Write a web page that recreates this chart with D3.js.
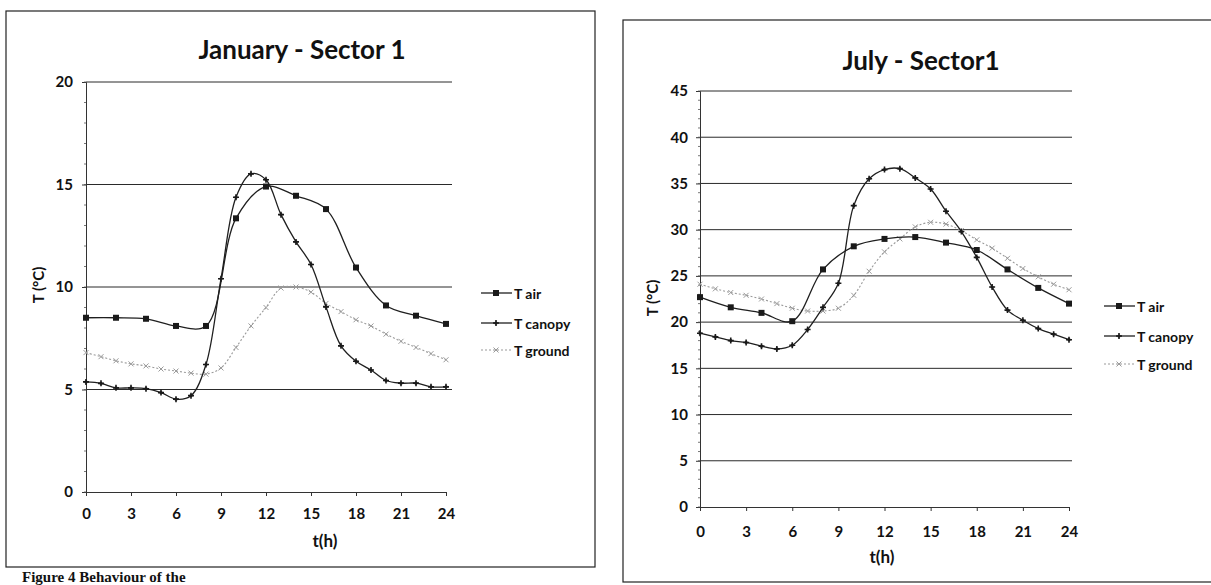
<!DOCTYPE html>
<html>
<head>
<meta charset="utf-8">
<script src="https://cdn.jsdelivr.net/npm/d3@7"></script>
<style>
  html, body { margin: 0; padding: 0; background: #fff; }
  svg { display: block; }
  text { font-family: Lato, "Open Sans", sans-serif; fill: #111; }
</style>
</head>
<body>
<svg id="chart" width="1211" height="585"></svg>
<script>
// ---------- DATA ----------
const seriesNames = ["T air", "T canopy", "T ground"];
const xTicks = [0, 3, 6, 9, 12, 15, 18, 21, 24];

// January - Sector 1
const janTitle = "January - Sector 1";
const janYTicks = [0, 5, 10, 15, 20];
const janAirHours = [0, 2, 4, 6, 8, 10, 12, 14, 16, 18, 20, 22, 24];
const janAir = [8.5, 8.5, 8.45, 8.1, 8.1, 13.35, 14.9, 14.45, 13.8, 10.95, 9.1, 8.6, 8.2];
const janCanopyHours = [0,1,2,3,4,5,6,7,8,9,10,11,12,13,14,15,16,17,18,19,20,21,22,23,24];
const janCanopy = [5.37, 5.3, 5.08, 5.08, 5.04, 4.85, 4.53, 4.7, 6.22, 10.4, 14.38, 15.52, 15.23, 13.53, 12.2, 11.1, 9.03, 7.13, 6.38, 5.95, 5.44, 5.31, 5.31, 5.13, 5.13];
const janGroundHours = [0,1,2,3,4,5,6,7,8,9,10,11,12,13,14,15,16,17,18,19,20,21,22,23,24];
const janGround = [6.8, 6.6, 6.4, 6.25, 6.15, 6.0, 5.9, 5.8, 5.75, 6.05, 7.05, 8.1, 9.0, 9.95, 10.0, 9.75, 9.2, 8.8, 8.4, 8.1, 7.7, 7.35, 7.05, 6.75, 6.45];

// July - Sector1
const julTitle = "July - Sector1";
const julYTicks = [0, 5, 10, 15, 20, 25, 30, 35, 40, 45];
const julAirHours = [0, 2, 4, 6, 8, 10, 12, 14, 16, 18, 20, 22, 24];
const julAir = [22.7, 21.6, 21.0, 20.1, 25.7, 28.2, 29.0, 29.2, 28.6, 27.8, 25.7, 23.7, 22.0];
const julCanopyHours = [0,1,2,3,4,5,6,7,8,9,10,11,12,13,14,15,16,17,18,19,20,21,22,23,24];
const julCanopy = [18.8, 18.4, 18.0, 17.8, 17.4, 17.1, 17.5, 19.2, 21.6, 24.2, 32.6, 35.5, 36.5, 36.6, 35.6, 34.4, 32.0, 29.8, 27.0, 23.8, 21.3, 20.2, 19.3, 18.7, 18.1];
const julGroundHours = [0,1,2,3,4,5,6,7,8,9,10,11,12,13,14,15,16,17,18,19,20,21,22,23,24];
const julGround = [24.1, 23.6, 23.2, 22.9, 22.5, 22.0, 21.5, 21.2, 21.2, 21.5, 22.9, 25.5, 27.6, 29.0, 30.3, 30.8, 30.6, 29.9, 28.9, 28.0, 26.9, 25.8, 24.9, 24.1, 23.5];

const yLabel = "T (°C)";
const xLabel = "t(h)";
const caption = "Figure 4 Behaviour of the";

// ---------- DRAW ----------
const svg = d3.select("#chart");

function zip(hs, vs) { return hs.map((h, i) => ({ h: h, v: vs[i] })); }

function marker(g, type, x, y) {
  if (type === "square") {
    g.append("rect").attr("x", x - 3).attr("y", y - 3).attr("width", 6).attr("height", 6)
      .attr("fill", "#1a1a1a");
  } else if (type === "plus") {
    g.append("path").attr("d", `M${x-3},${y}L${x+3},${y}M${x},${y-3}L${x},${y+3}`)
      .attr("stroke", "#1a1a1a").attr("stroke-width", 1.6);
    g.append("circle").attr("cx", x).attr("cy", y).attr("r", 1.6).attr("fill", "#1a1a1a");
  } else {
    g.append("path").attr("d", `M${x-2.5},${y-2.5}L${x+2.5},${y+2.5}M${x-2.5},${y+2.5}L${x+2.5},${y-2.5}`)
      .attr("stroke", "#9a9a9a").attr("stroke-width", 1);
  }
}

function drawChart(c) {
  const g = svg.append("g");
  // frame
  g.append("rect").attr("x", c.frame[0]).attr("y", c.frame[1])
    .attr("width", c.frame[2]).attr("height", c.frame[3])
    .attr("fill", "none").attr("stroke", "#222").attr("stroke-width", 1.2);

  const x = d3.scaleLinear().domain([0, 24]).range([c.x0, c.x1]);
  const y = d3.scaleLinear().domain([0, c.yMax]).range([c.y0, c.y1]);

  // gridlines
  g.append("g").selectAll("line").data(c.yTicks.filter(d => d > 0)).join("line")
    .attr("x1", c.x0).attr("x2", c.gridEnd)
    .attr("y1", d => y(d)).attr("y2", d => y(d))
    .attr("stroke", "#2a2a2a").attr("stroke-width", 1);

  // y axis
  const yAxis = g.append("g").attr("transform", `translate(${c.x0},0)`)
    .call(d3.axisLeft(y).tickValues(c.yTicks).tickSize(4).tickFormat(d3.format("d")));
  yAxis.select(".domain").attr("stroke", "#333");
  yAxis.selectAll(".tick line").attr("stroke", "#333");
  yAxis.selectAll(".tick text").attr("x", -c.yLabelPad).attr("font-size", 15).attr("font-weight", 700)
    .style("font-family", "Lato, sans-serif").attr("fill", "#111");
  // minor ticks
  g.append("g").selectAll("line").data(d3.range(0, c.yMax + 0.001, 1)).join("line")
    .attr("x1", c.x0 - 2).attr("x2", c.x0)
    .attr("y1", d => y(d)).attr("y2", d => y(d))
    .attr("stroke", "#555").attr("stroke-width", 0.8);

  // x axis
  const xAxis = g.append("g").attr("transform", `translate(0,${c.y0})`)
    .call(d3.axisBottom(x).tickValues(xTicks).tickSize(4).tickPadding(c.xLabelPad));
  xAxis.select(".domain").attr("stroke", "#333");
  xAxis.selectAll(".tick line").attr("stroke", "#333");
  xAxis.selectAll(".tick text").attr("font-size", 15).attr("font-weight", 700)
    .style("font-family", "Lato, sans-serif").attr("fill", "#111");

  // title
  g.append("text").attr("x", c.titleX).attr("y", c.titleY).attr("text-anchor", "middle")
    .attr("dominant-baseline", "central")
    .attr("font-size", 26).attr("font-weight", 700).text(c.title);
  // axis labels
  g.append("text").attr("transform", `translate(${c.yLabX},${c.yLabY}) rotate(-90)`)
    .attr("text-anchor", "middle").attr("dominant-baseline", "central")
    .attr("font-size", 15).attr("font-weight", 700).text(yLabel);
  g.append("text").attr("x", c.xLabX).attr("y", c.xLabY).attr("text-anchor", "middle")
    .attr("dominant-baseline", "central")
    .attr("font-size", 17).attr("font-weight", 700).text(xLabel);

  // series
  const series = [
    { name: seriesNames[0], data: zip(c.airH, c.air), color: "#1f1f1f", dash: null, w: 1.3, m: "square" },
    { name: seriesNames[1], data: zip(c.canH, c.can), color: "#1f1f1f", dash: null, w: 1.3, m: "plus" },
    { name: seriesNames[2], data: zip(c.grH, c.gr), color: "#9a9a9a", dash: "2,2", w: 1.1, m: "x" }
  ];
  const line = d3.line().x(d => x(d.h)).y(d => y(d.v)).curve(d3.curveCatmullRom.alpha(0.5));
  series.slice().reverse().forEach(s => {
    g.append("path").datum(s.data).attr("d", line).attr("fill", "none")
      .attr("stroke", s.color).attr("stroke-width", s.w)
      .attr("stroke-dasharray", s.dash);
    const mg = g.append("g");
    s.data.forEach(d => marker(mg, s.m, x(d.h), y(d.v)));
  });

  // legend
  series.forEach((s, i) => {
    const ly = c.legY[i];
    g.append("line").attr("x1", c.legX).attr("x2", c.legX + 31).attr("y1", ly).attr("y2", ly)
      .attr("stroke", s.color).attr("stroke-width", s.w).attr("stroke-dasharray", s.dash);
    marker(g, s.m, c.legX + 15, ly);
    g.append("text").attr("x", c.legX + 33).attr("y", ly).attr("dominant-baseline", "central")
      .attr("font-size", 14).attr("font-weight", 700).text(s.name);
  });
}

drawChart({
  frame: [6, 11, 589, 556],
  x0: 86, x1: 446, y0: 492, y1: 82, yMax: 20, gridEnd: 452,
  yTicks: janYTicks, yLabelPad: 13, xLabelPad: 12,
  title: janTitle, titleX: 302, titleY: 49,
  yLabX: 38, yLabY: 285, xLabX: 325, xLabY: 540,
  airH: janAirHours, air: janAir, canH: janCanopyHours, can: janCanopy, grH: janGroundHours, gr: janGround,
  legX: 481, legY: [293, 323, 350]
});

drawChart({
  frame: [623, 20, 600, 562],
  x0: 700, x1: 1069, y0: 507, y1: 91, yMax: 45, gridEnd: 1072,
  yTicks: julYTicks, yLabelPad: 12, xLabelPad: 15,
  title: julTitle, titleX: 921, titleY: 60,
  yLabX: 652, yLabY: 298, xLabX: 882, xLabY: 556,
  airH: julAirHours, air: julAir, canH: julCanopyHours, can: julCanopy, grH: julGroundHours, gr: julGround,
  legX: 1104, legY: [306, 336, 364]
});

// caption below the left panel
svg.append("text").attr("x", 22).attr("y", 582)
  .style("font-family", "'Liberation Serif', serif").attr("font-size", 15).attr("font-weight", 700)
  .text(caption);
</script>
</body>
</html>
